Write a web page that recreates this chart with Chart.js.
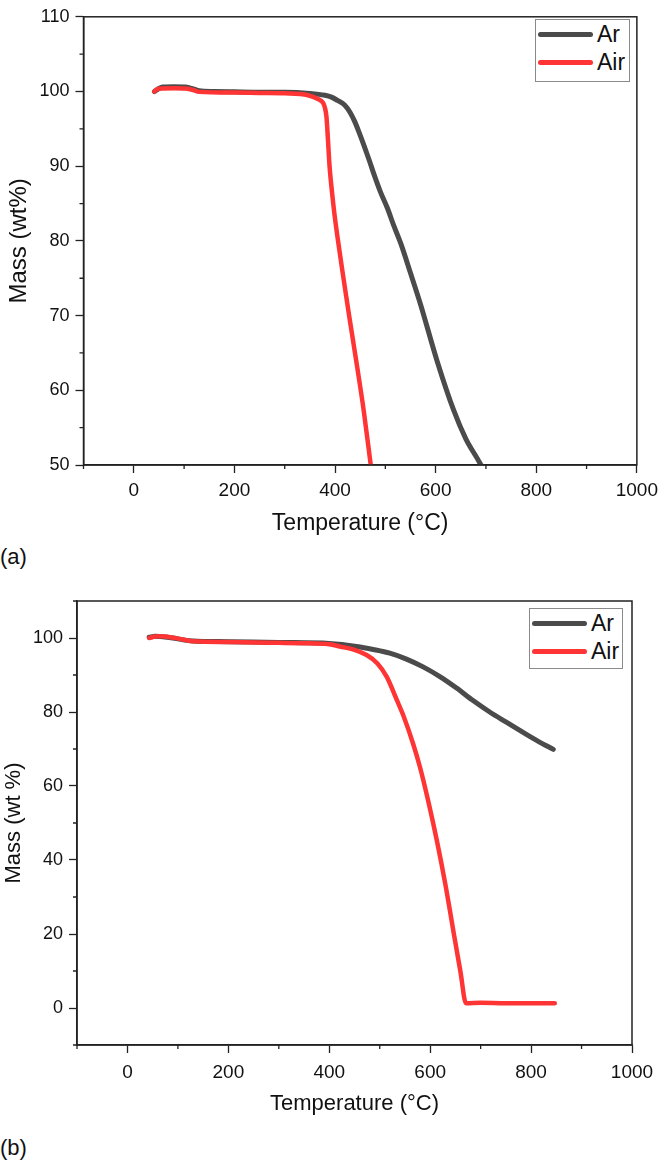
<!DOCTYPE html>
<html>
<head>
<meta charset="utf-8">
<script src="https://cdn.jsdelivr.net/npm/chart.js@4.4.1/dist/chart.umd.min.js"></script>
<style>
  body { margin: 0; background: #fff; width: 664px; height: 1165px; position: relative; overflow: hidden; font-family: "Liberation Sans", Arial, sans-serif; }
  canvas { position: absolute; left: 0; }
  .panel { position: absolute; left: 0; font-size: 22px; color: #111; }
  .legend { position: absolute; border: 1px solid #8a8a8a; background: #fff; font-size: 23px; color: #111; }
  .legend div { position: relative; height: 28px; line-height: 28px; white-space: nowrap; }
  .legend span.ln { position: absolute; left: 2px; top: 12px; width: 55px; height: 5px; border-radius: 3px; }
  .legend span.tx { position: absolute; left: 61px; top: 0; }
</style>
</head>
<body>
<canvas id="chartA" width="664" height="540" style="top:0"></canvas>
<canvas id="chartB" width="664" height="550" style="top:580px"></canvas>
<div class="panel" style="top:544px">(a)</div>
<div class="panel" style="top:1135px">(b)</div>
<div class="legend" id="legendA" style="left:535px;top:19px;width:93px;height:61px"></div>
<div class="legend" id="legendB" style="left:529px;top:608px;width:92px;height:59px"></div>
<script>
// (a) TGA, y axis 50-110
const tempA_Ar = [41, 50, 57, 80, 103, 118, 130, 160, 200, 250, 300, 350, 380, 393, 405, 419, 430, 439, 448, 458, 468, 478, 490, 504, 517, 531, 550, 570, 603, 636, 660, 690, 705];
const massA_Ar = [100.0, 100.4, 100.6, 100.65, 100.6, 100.35, 100.1, 100.0, 99.95, 99.9, 99.9, 99.75, 99.5, 99.25, 98.8, 98.2, 97.2, 96.0, 94.5, 92.7, 90.8, 88.8, 86.6, 84.4, 82.0, 79.6, 75.7, 71.5, 63.9, 57.3, 53.5, 50.0, 47.8];
const tempA_Air = [41, 46, 57, 80, 103, 118, 130, 200, 250, 300, 346, 366, 376, 380, 383, 386, 389, 394, 399, 406, 415, 428, 442, 457, 471, 480];
const massA_Air = [100.0, 100.3, 100.4, 100.45, 100.4, 100.2, 99.95, 99.85, 99.8, 99.75, 99.5, 99.0, 98.5, 97.8, 96.6, 93.5, 90.1, 86.5, 83.5, 80.0, 75.8, 70.0, 64.0, 57.3, 50.0, 45.3];

// (b) TGA, y axis -10-110
const tempB_Ar = [43, 55, 65, 90, 110, 130, 200, 300, 400, 454, 487, 520, 553, 586, 620, 653, 685, 718, 750, 785, 815, 844];
const massB_Ar = [100.2, 100.5, 100.4, 100.0, 99.5, 99.2, 99.0, 98.8, 98.5, 97.7, 96.9, 95.9, 94.3, 92.2, 89.5, 86.4, 83.1, 80.0, 77.3, 74.4, 72.0, 69.9];
const tempB_Air = [43, 55, 65, 90, 110, 130, 200, 300, 343, 400, 421, 450, 474, 495, 514, 534, 547, 566, 580, 596, 613, 630, 649, 660, 671, 700, 750, 800, 847];
const massB_Air = [100.0, 100.4, 100.5, 100.1, 99.6, 99.1, 98.9, 98.7, 98.6, 98.3, 97.7, 96.8, 95.4, 93.2, 89.5, 83.2, 79.0, 71.5, 65.0, 56.0, 45.4, 33.5, 18.4, 9.8, 1.3, 1.4, 1.3, 1.3, 1.3];

const seriesNames = ['Ar', 'Air'];
const seriesColors = ['#4b4b4b', '#ff3434'];

Chart.defaults.font.family = '"Liberation Sans", Arial, sans-serif';
Chart.defaults.color = '#111';

function pts(xs, ys) {
    return xs.map((x, i) => ({ x: x, y: ys[i] }));
}

// box round the plot + the short minor ticks
const frame = {
    id: 'frame',
    afterDraw(chart, args, opts) {
        const ctx = chart.ctx;
        const a = chart.chartArea;
        ctx.save();
        ctx.strokeStyle = '#222';
        ctx.lineWidth = 1.5;
        ctx.strokeRect(a.left, a.top, a.right - a.left, a.bottom - a.top);
        ctx.lineWidth = 1.3;
        ctx.beginPath();
        chart.scales.x.ticks.forEach(t => {
            if (t.value % opts.xMajor !== 0) {
                const px = chart.scales.x.getPixelForValue(t.value);
                ctx.moveTo(px, a.bottom);
                ctx.lineTo(px, a.bottom + 4);
            }
        });
        chart.scales.y.ticks.forEach(t => {
            if (t.value % opts.yMajor !== 0) {
                const py = chart.scales.y.getPixelForValue(t.value);
                ctx.moveTo(a.left, py);
                ctx.lineTo(a.left - 4, py);
            }
        });
        ctx.stroke();
        ctx.restore();
    }
};

function makeChart(id, sets, cfg) {
    const datasets = sets.map((s, i) => ({
        label: seriesNames[i],
        data: s,
        borderColor: seriesColors[i],
        backgroundColor: seriesColors[i],
        borderWidth: i === 0 ? 5 : 4.5,
        borderCapStyle: 'round',
        borderJoinStyle: 'round',
        pointRadius: 0,
        cubicInterpolationMode: 'monotone',
        order: i === 0 ? 1 : 0
    }));

    const chart = new Chart(document.getElementById(id), {
        type: 'line',
        data: { datasets: datasets },
        options: {
            responsive: false,
            animation: false,
            devicePixelRatio: 1,
            layout: { padding: cfg.padding },
            plugins: {
                legend: { display: false },
                tooltip: { enabled: false },
                frame: { xMajor: 200, yMajor: cfg.yMajor }
            },
            scales: {
                x: {
                    type: 'linear',
                    min: -100,
                    max: 1000,
                    afterFit(scale) { scale.height = cfg.xHeight; },
                    border: { display: true, color: '#222', width: 1.5 },
                    grid: {
                        drawOnChartArea: false,
                        tickLength: 8,
                        tickWidth: 1.3,
                        tickColor: c => (c.tick && c.tick.value % 200 === 0) ? '#222' : 'rgba(0,0,0,0)'
                    },
                    ticks: {
                        stepSize: 100,
                        autoSkip: false,
                        maxRotation: 0,
                        padding: cfg.xPad,
                        font: { size: 19 },
                        color: '#111',
                        callback: v => (v % 200 === 0 && v >= 0) ? v : ''
                    },
                    title: {
                        display: true,
                        text: 'Temperature (°C)',
                        font: { size: cfg.xTitleSize },
                        color: '#111',
                        padding: cfg.xTitlePad
                    }
                },
                y: {
                    min: cfg.yMin,
                    max: 110,
                    afterFit(scale) { scale.width = cfg.yWidth; },
                    border: { display: true, color: '#222', width: 1.5 },
                    grid: {
                        drawOnChartArea: false,
                        tickLength: 8,
                        tickWidth: 1.3,
                        tickColor: c => (c.tick && c.tick.value % cfg.yMajor === 0) ? '#222' : 'rgba(0,0,0,0)'
                    },
                    ticks: {
                        stepSize: cfg.yStep,
                        autoSkip: false,
                        padding: 6,
                        font: { size: 18 },
                        color: '#111',
                        callback: v => (v % cfg.yMajor === 0 && v >= cfg.yLabelMin && v <= cfg.yLabelMax) ? v : ''
                    },
                    title: {
                        display: true,
                        text: cfg.yTitle,
                        font: { size: cfg.yTitleSize },
                        color: '#111',
                        padding: cfg.yTitlePad
                    }
                }
            }
        },
        plugins: [frame]
    });
    return chart;
}

function fillLegend(id, chart) {
    const box = document.getElementById(id);
    chart.data.datasets.forEach(ds => {
        const row = document.createElement('div');
        row.innerHTML = '<span class="ln" style="background:' + ds.borderColor + '"></span><span class="tx">' + ds.label + '</span>';
        box.appendChild(row);
    });
}

const chartA = makeChart('chartA', [pts(tempA_Ar, massA_Ar), pts(tempA_Air, massA_Air)], {
    padding: { top: 8, right: 21, left: 0, bottom: 0 },
    xHeight: 75, yWidth: 83.5, xPad: 6,
    xTitleSize: 23, xTitlePad: { top: 0, bottom: 3 },
    yMin: 50, yStep: 5, yMajor: 10, yLabelMin: 50, yLabelMax: 110,
    yTitle: 'Mass (wt%)', yTitleSize: 24, yTitlePad: { top: 5, bottom: 0 }
});

const chartB = makeChart('chartB', [pts(tempB_Ar, massB_Ar), pts(tempB_Air, massB_Air)], {
    padding: { top: 21, right: 32, left: 0, bottom: 0 },
    xHeight: 85, yWidth: 77, xPad: 8,
    xTitleSize: 22, xTitlePad: { top: 0, bottom: 13 },
    yMin: -10, yStep: 10, yMajor: 20, yLabelMin: 0, yLabelMax: 100,
    yTitle: 'Mass (wt %)', yTitleSize: 22, yTitlePad: { top: 1, bottom: 0 }
});

fillLegend('legendA', chartA);
fillLegend('legendB', chartB);
</script>
</body>
</html>
